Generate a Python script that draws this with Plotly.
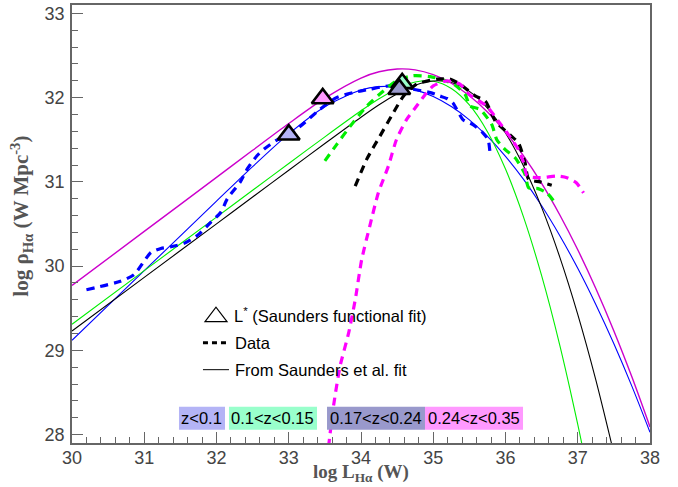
import plotly.graph_objects as go

# ---------------- data ----------------
# Saunders-fit curves (solid)
blue_fit_x = [30, 31, 32, 32.5, 33, 33.5, 34, 34.25, 34.5, 34.75, 35, 35.25, 35.5, 35.75,
              36, 36.25, 36.5, 36.75, 37, 37.25, 37.5, 37.75, 38]
blue_fit_y = [29.12, 29.946, 30.771, 31.181, 31.570, 31.893, 32.090, 32.131, 32.131, 32.092,
              32.013, 31.894, 31.736, 31.539, 31.303, 31.029, 30.716, 30.364, 29.974, 29.545,
              29.078, 28.572, 28.028]

green_fit_x = [30, 31, 32, 32.5, 33, 33.5, 34, 34.25, 34.5, 34.75, 35, 35.25, 35.5, 35.75,
               36, 36.25, 36.5, 36.75, 37, 37.1, 37.25]
green_fit_y = [29.31, 29.946, 30.582, 30.90, 31.218, 31.535, 31.844, 31.987, 32.107, 32.185,
               32.194, 32.109, 31.913, 31.596, 31.152, 30.582, 29.886, 29.065, 28.120, 27.708,
               27.053]

black_fit_x = [30, 31, 32, 32.5, 33, 33.5, 34, 34.25, 34.5, 34.75, 35, 35.25, 35.5, 35.75,
               36, 36.25, 36.5, 36.75, 37, 37.25, 37.5]
black_fit_y = [29.23, 29.866, 30.502, 30.82, 31.138, 31.455, 31.767, 31.915, 32.047, 32.148,
               32.198, 32.179, 32.074, 31.876, 31.581, 31.188, 30.697, 30.110, 29.427, 28.649,
               27.777]

magenta_fit_x = [30, 31, 32, 32.5, 33, 33.5, 34, 34.25, 34.5, 34.75, 35, 35.25, 35.5, 35.75,
                 36, 36.25, 36.5, 36.75, 37, 37.25, 37.5, 37.75, 38]
magenta_fit_y = [29.77, 30.412, 31.054, 31.375, 31.693, 31.994, 32.233, 32.307, 32.340, 32.330,
                 32.273, 32.171, 32.023, 31.830, 31.592, 31.309, 30.982, 30.610, 30.194, 29.735,
                 29.231, 28.683, 28.091]

# Data curves (dashed)
blue_data_x = [30.20, 30.67, 30.86, 31.09, 31.23, 31.37, 31.55, 31.73, 31.92, 32.06, 32.15,
               32.33, 32.43, 32.56, 32.66, 32.84, 33.00, 33.16, 33.43, 33.66, 33.89, 34.12,
               34.40, 34.72, 34.96, 35.09, 35.19, 35.27, 35.41, 35.55, 35.69, 35.76, 35.79]
blue_data_y = [29.72, 29.82, 29.90, 30.16, 30.21, 30.23, 30.27, 30.36, 30.52, 30.64, 30.80,
               31.00, 31.16, 31.31, 31.39, 31.50, 31.56, 31.66, 31.86, 32.00, 32.06, 32.10,
               32.14, 32.10, 32.06, 32.02, 31.99, 31.94, 31.74, 31.68, 31.58, 31.50, 31.30]

green_data_x = [33.50, 33.66, 33.85, 34.08, 34.31, 34.49, 34.72, 34.96, 35.14, 35.30, 35.44,
                35.51, 35.65, 35.81, 35.88, 36.00, 36.13, 36.27, 36.32, 36.45, 36.57, 36.69]
green_data_y = [31.25, 31.44, 31.66, 31.90, 32.08, 32.20, 32.26, 32.25, 32.21, 32.15, 32.04,
                31.90, 31.86, 31.68, 31.50, 31.38, 31.29, 31.09, 30.93, 30.92, 30.87, 30.75]

black_data_x = [33.92, 34.08, 34.26, 34.42, 34.59, 34.77, 35.05, 35.23, 35.37, 35.58, 35.72,
                35.86, 36.06, 36.18, 36.27, 36.32, 36.48, 36.64]
black_data_y = [30.95, 31.27, 31.54, 31.78, 32.02, 32.16, 32.22, 32.22, 32.16, 32.02, 31.96,
                31.72, 31.56, 31.46, 31.23, 31.03, 31.00, 30.96]

magenta_data_x = [33.55, 33.62, 33.71, 33.83, 33.92, 34.01, 34.12, 34.24, 34.38, 34.49, 34.63,
                  34.77, 34.90, 35.00, 35.19, 35.37, 35.51, 35.74, 35.92, 36.05, 36.18, 36.25,
                  36.30, 36.48, 36.71, 36.85, 36.98, 37.08]
magenta_data_y = [27.85, 28.34, 28.81, 29.21, 29.60, 30.08, 30.47, 30.87, 31.19, 31.50, 31.74,
                  31.90, 32.05, 32.14, 32.20, 32.16, 32.03, 31.90, 31.70, 31.55, 31.38, 31.23,
                  31.07, 31.05, 31.07, 31.05, 30.99, 30.87]

# L* points (Saunders functional fit), drawing order: pink, lavender, mint, grey-purple
lstar_x = [33.47, 33.00, 34.57, 34.53]
lstar_y = [31.99, 31.56, 32.17, 32.10]
lstar_colors = ["#ff99ff", "#b4b4f6", "#99ffcc", "#9999cc"]

z_labels = ["z<0.1", "0.1<z<0.15", "0.17<z<0.24", "0.24<z<0.35"]
z_colors = ["#b4b4f6", "#99ffcc", "#9999cc", "#ff99ff"]

x_ticks = [30, 31, 32, 33, 34, 35, 36, 37, 38]
y_ticks = [28, 29, 30, 31, 32, 33]

# ---------------- figure ----------------
fig = go.Figure()

fits = [(blue_fit_x, blue_fit_y, "#0000ff", 1.1),
        (green_fit_x, green_fit_y, "#00ee00", 1.1),
        (black_fit_x, black_fit_y, "#000000", 1.1),
        (magenta_fit_x, magenta_fit_y, "#cc00cc", 1.4)]
for fx, fy, col, w in fits:
    fig.add_trace(go.Scatter(x=fx, y=fy, mode="lines",
                             line=dict(color=col, width=w, shape="spline", smoothing=0.8),
                             hoverinfo="skip"))

datas = [(blue_data_x, blue_data_y, "#0000ff"),
         (green_data_x, green_data_y, "#00ee00"),
         (black_data_x, black_data_y, "#000000"),
         (magenta_data_x, magenta_data_y, "#ff00ff")]
for dx, dy, col in datas:
    fig.add_trace(go.Scatter(x=dx, y=dy, mode="lines",
                             line=dict(color=col, width=3.2, dash="8px,6px",
                                       shape="spline", smoothing=0.6),
                             hoverinfo="skip"))

for lx, ly, col in zip(lstar_x, lstar_y, lstar_colors):
    fig.add_trace(go.Scatter(x=[lx], y=[ly], mode="markers",
                             marker=dict(symbol="triangle-up", size=19, color=col,
                                         line=dict(color="black", width=2.6)),
                             hoverinfo="skip"))

axis_common = dict(showgrid=False, zeroline=False, showline=True, linecolor="#666",
                   linewidth=1.5, mirror=True, ticks="inside", ticklen=11, tickwidth=1,
                   tickcolor="#666", automargin=False,
                   tickfont=dict(family="Liberation Sans, Arial", size=18, color="#444"))

fig.update_xaxes(range=[30, 38], tickvals=x_ticks, ticktext=[str(v) for v in x_ticks],
                 minor=dict(dtick=0.2, tick0=30, ticks="inside", ticklen=6, tickcolor="#666",
                            tickwidth=1, showgrid=False),
                 ticklabelstandoff=-2, **axis_common)
fig.update_yaxes(range=[27.9, 33.1], tickvals=y_ticks, ticktext=[str(v) for v in y_ticks],
                 minor=dict(dtick=0.2, tick0=28, ticks="inside", ticklen=6, tickcolor="#666",
                            tickwidth=1, showgrid=False),
                 ticklabelstandoff=2, **axis_common)

shapes = []
annotations = []

# axis titles
annotations.append(dict(xref="paper", yref="paper", x=0.5, y=-0.068, xanchor="center",
                        yanchor="middle", showarrow=False,
                        text="<b>log L<sub>Hα</sub> (W)</b>",
                        font=dict(family="Liberation Serif, Times New Roman", size=19,
                                  color="#555")))
annotations.append(dict(xref="paper", yref="paper", x=-0.088, y=0.517, xanchor="center",
                        yanchor="middle", showarrow=False, textangle=-90,
                        text="<b>log ρ<sub>Hα</sub> (W Mpc<sup>-3</sup>)</b>",
                        font=dict(family="Liberation Serif, Times New Roman", size=21,
                                  color="#555")))

# legend block (paper coords)
legend_font = dict(family="Liberation Sans, Arial", size=16.5, color="black")
shapes.append(dict(type="path", xref="paper", yref="paper",
                   path="M 0.2301 0.2769 L 0.2682 0.2769 L 0.2491 0.3100 Z",
                   line=dict(color="black", width=1.2), fillcolor="rgba(0,0,0,0)"))
annotations.append(dict(xref="paper", yref="paper", x=0.2768, y=0.2929, xanchor="left",
                        yanchor="middle", showarrow=False,
                        text="L<sup>*</sup> (Saunders functional fit)", font=legend_font))
shapes.append(dict(type="line", xref="paper", yref="paper", x0=0.2266, x1=0.2716,
                   y0=0.229, y1=0.229, line=dict(color="black", width=3, dash="5px,4px")))
annotations.append(dict(xref="paper", yref="paper", x=0.2785, y=0.229, xanchor="left",
                        yanchor="middle", showarrow=False, text="Data", font=legend_font))
shapes.append(dict(type="line", xref="paper", yref="paper", x0=0.2266, x1=0.2716,
                   y0=0.1674, y1=0.1674, line=dict(color="black", width=1)))
annotations.append(dict(xref="paper", yref="paper", x=0.2785, y=0.1674, xanchor="left",
                        yanchor="middle", showarrow=False, text="From Saunders et al. fit",
                        font=legend_font))

# coloured redshift labels
box_x = [(0.1851, 0.2647), (0.2716, 0.4239), (0.4412, 0.6107), (0.6107, 0.7803)]
for (x0, x1), lab, col in zip(box_x, z_labels, z_colors):
    shapes.append(dict(type="rect", xref="paper", yref="paper", x0=x0, x1=x1,
                       y0=0.0304, y1=0.0829, fillcolor=col, line=dict(width=0),
                       layer="above"))
    annotations.append(dict(xref="paper", yref="paper", x=(x0 + x1) / 2, y=0.0566,
                            xanchor="center", yanchor="middle", showarrow=False, text=lab,
                            font=dict(family="Liberation Sans, Arial", size=16.5,
                                      color="black")))

fig.update_layout(width=678, height=487, margin=dict(l=72, r=28, t=5, b=44),
                  plot_bgcolor="white", paper_bgcolor="white", showlegend=False,
                  shapes=shapes, annotations=annotations)

fig.write_html("out.html", config={"displayModeBar": False},
               post_script="document.body.style.margin='0px';document.body.style.padding='0px';")
